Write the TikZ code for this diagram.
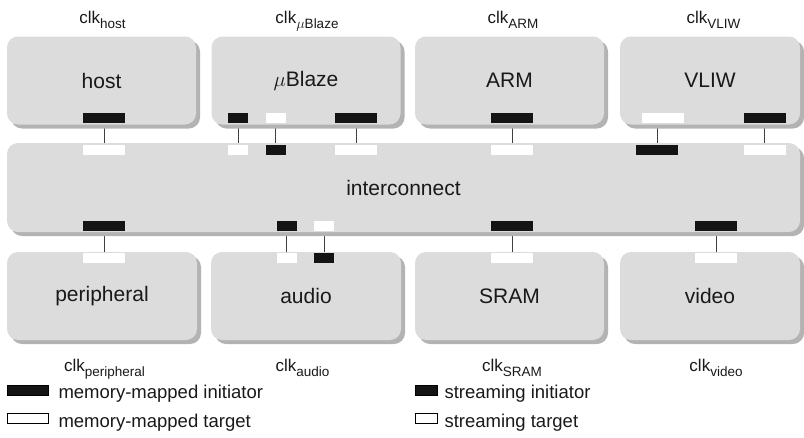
\documentclass[tikz,border=0pt]{standalone}
\usepackage{fontspec}
\setmainfont{Liberation Sans}
\usepackage{tikz}
\usetikzlibrary{positioning}
\usetikzlibrary{shadows}
\usetikzlibrary{backgrounds}
\definecolor{tilegray}{HTML}{DCDCDC}
\definecolor{shadowgray}{HTML}{B3B3B3}
\definecolor{portblack}{HTML}{141414}
\newlength{\MMPortWidth}
\setlength{\MMPortWidth}{42pt}
\newlength{\STPortWidth}
\setlength{\STPortWidth}{20pt}
\newcommand{\TileFont}{\fontsize{21pt}{25pt}\selectfont}
\newcommand{\ClockFont}{\fontsize{17pt}{20pt}\selectfont}
\newcommand{\LegendFont}{\fontsize{18.5pt}{22pt}\selectfont}
\newcommand{\clksub}[1]{\raisebox{-5pt}{\fontsize{13.5pt}{15pt}\selectfont #1}}

\begin{document}
\begin{tikzpicture}[x=1pt,y=-1pt]
    \tikzset{
        soc tile/.style={fill=tilegray, draw=none, rounded corners=11pt,
            inner sep=0pt, minimum height=88pt, font=\TileFont, text=black!90,
            general shadow={fill=shadowgray, shadow xshift=4pt, shadow yshift=-4pt}},
        soc port/.style={draw=none, inner sep=0pt, minimum height=10pt},
        port link/.style={draw=black!75, line width=0.9pt},
        clock label/.style={font=\ClockFont, anchor=base, inner sep=0pt, text=black!90},
        legend key/.style={soc port, draw=black, line width=0.6pt},
        legend text/.style={font=\LegendFont, anchor=west, inner sep=0pt, text=black!90}
    }
    \useasboundingbox (0,0) rectangle (804,437);
    % tiles, top row and bottom row
    \foreach \name/\label/\x/\y/\w in {host/host/101.5/80.5/189, ublaze/{$\mu$Blaze}/306/80.5/189,
            arm/ARM/509.5/80.5/189, vliw/VLIW/710/80.5/180,
            peripheral/peripheral/102/296/190, audio/audio/306/296/190,
            sram/SRAM/509.5/296/189, video/video/710/296/180} {
        \node[soc tile, minimum width=\w pt] (tile-\name) at (\x,\y) {\label};
    }
    \node[soc tile, minimum width=793pt, minimum height=89pt] (tile-ic) at (403.5,187.5) {interconnect};
    % network interface ports
    \foreach \port/\portfill/\portwidth/\x/\y in {
            host-mmi/portblack/\MMPortWidth/104/118,
            ublaze-sti/portblack/\STPortWidth/238/118,
            ublaze-stt/white/\STPortWidth/275.5/118,
            ublaze-mmi/portblack/\MMPortWidth/356/118,
            arm-mmi/portblack/\MMPortWidth/512/118,
            vliw-mmt/white/\MMPortWidth/662.5/118,
            vliw-mmi/portblack/\MMPortWidth/764.5/118,
            ic-host-mmt/white/\MMPortWidth/104/150,
            ic-ublaze-stt/white/\STPortWidth/238/150,
            ic-ublaze-sti/portblack/\STPortWidth/275.5/150,
            ic-ublaze-mmt/white/\MMPortWidth/356/150,
            ic-arm-mmt/white/\MMPortWidth/512/150,
            ic-vliw-mmi/portblack/\MMPortWidth/657/150,
            ic-vliw-mmt/white/\MMPortWidth/764.5/150,
            ic-peripheral-mmi/portblack/\MMPortWidth/104/226,
            ic-audio-sti/portblack/\STPortWidth/286.5/226,
            ic-audio-stt/white/\STPortWidth/324/226,
            ic-sram-mmi/portblack/\MMPortWidth/512/226,
            ic-video-mmi/portblack/\MMPortWidth/716/226,
            peripheral-mmt/white/\MMPortWidth/104/257.5,
            audio-stt/white/\STPortWidth/286.5/257.5,
            audio-sti/portblack/\STPortWidth/324/257.5,
            sram-mmt/white/\MMPortWidth/512/257.5,
            video-mmt/white/\MMPortWidth/716/257.5} {
        \node[soc port, fill=\portfill, minimum width=\portwidth] (\port) at (\x,\y) {};
    }
    \begin{scope}[on background layer]
        \foreach \lower/\upper in {ic-host-mmt/host-mmi, ic-ublaze-stt/ublaze-sti,
                ic-ublaze-sti/ublaze-stt, ic-ublaze-mmt/ublaze-mmi, ic-arm-mmt/arm-mmi,
                ic-vliw-mmi/vliw-mmt, ic-vliw-mmt/vliw-mmi,
                peripheral-mmt/ic-peripheral-mmi, audio-stt/ic-audio-sti,
                audio-sti/ic-audio-stt, sram-mmt/ic-sram-mmi, video-mmt/ic-video-mmi} {
            \draw[port link] (\lower) |- (\upper);
        }
    \end{scope}
    % clock domains
    \node[clock label] (clk-host) at (102.5,23) {clk\clksub{host}};
    \node[clock label] (clk-ublaze) at (307,23) {clk\clksub{$\mu$Blaze}};
    \node[clock label] (clk-arm) at (513,23) {clk\clksub{ARM}};
    \node[clock label] (clk-vliw) at (713.5,23) {clk\clksub{VLIW}};
    \node[clock label] (clk-peripheral) at (104.5,371) {clk\clksub{peripheral}};
    \node[clock label] (clk-audio) at (302.5,371) {clk\clksub{audio}};
    \node[clock label] (clk-sram) at (512,371) {clk\clksub{SRAM}};
    \node[clock label] (clk-video) at (716,371) {clk\clksub{video}};
    % legend
    \node[legend key, fill=portblack, minimum width=41pt] (key-mm-init) at (27.5,390) {};
    \node[legend text, right=10pt of key-mm-init, yshift=-4pt] (key-mm-init-text) {memory-mapped initiator};
    \node[legend key, fill=white, minimum width=41pt] (key-mm-targ) at (27.5,418.5) {};
    \node[legend text, right=10pt of key-mm-targ, yshift=-4pt] (key-mm-targ-text) {memory-mapped target};
    \node[legend key, fill=portblack, minimum width=22pt] (key-st-init) at (426,390) {};
    \node[legend text, right=7pt of key-st-init, yshift=-4pt] (key-st-init-text) {streaming initiator};
    \node[legend key, fill=white, minimum width=22pt] (key-st-targ) at (426,418.5) {};
    \node[legend text, right=7pt of key-st-targ, yshift=-4pt] (key-st-targ-text) {streaming target};
\end{tikzpicture}
\end{document}
